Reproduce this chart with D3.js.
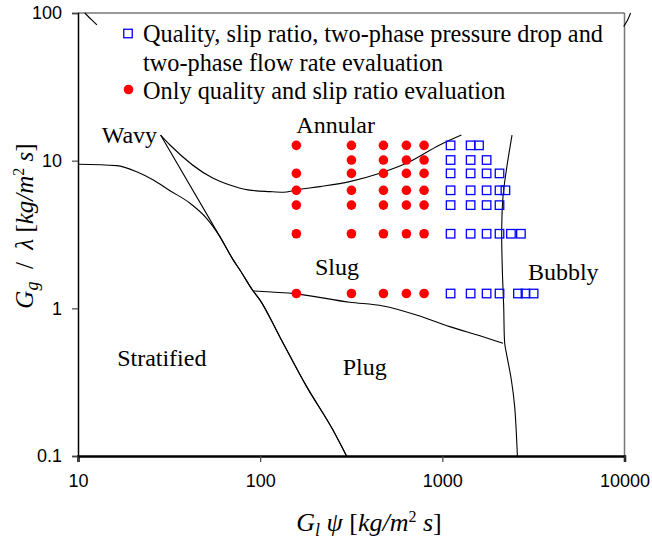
<!DOCTYPE html>
<html>
<head>
<meta charset="utf-8">
<script src="https://cdn.jsdelivr.net/npm/d3@7"></script>
<style>
  body { margin: 0; background: #fff; }
  svg { display: block; }
</style>
</head>
<body>
<svg width="652" height="544"></svg>
<script>
// ---- data ----
const xTicks = [10, 100, 1000, 10000];
const yTicks = [0.1, 1, 10, 100];

// gas flux levels of the measured rows
const yLevels = [12.7, 10.1, 8.2, 6.3, 5.0, 3.2, 1.26];

// red dots: x values per row (only quality and slip ratio)
const redRows = [
  [158, 317, 475, 635, 794],
  [317, 475, 635, 794],
  [158, 317, 475, 635, 794],
  [158, 317, 475, 635, 794],
  [158, 317, 475, 635, 794],
  [158, 317, 475, 635, 794],
  [158, 317, 475, 635, 794]
];

// blue squares: x values per row (full evaluation)
const blueRows = [
  [1110, 1430, 1590],
  [1110, 1430, 1750],
  [1110, 1430, 1750, 2060],
  [1110, 1430, 1750, 2060, 2220],
  [1110, 1430, 1750, 2060],
  [1110, 1430, 1750, 2060, 2380, 2700],
  [1110, 1430, 1750, 2060, 2600, 2860, 3170]
];

// flow pattern boundaries
const stratifiedLine = [[10, 9.45], [16.3, 9.25], [21, 8.42], [25.9, 7.4], [32, 6.26], [41.2, 5.15],
  [50.8, 4.07], [60.1, 3.06], [71.1, 2.13], [77.4, 1.82], [91.5, 1.31], [99.6, 1.14],
  [128, 0.643], [180, 0.295], [251, 0.15], [298, 0.1]];
const wavySteepLine = [[28.4, 14.9], [60.1, 3.06], [71.1, 2.13], [77.4, 1.82], [91.5, 1.31],
  [99.6, 1.14], [128, 0.643], [180, 0.295], [251, 0.15], [298, 0.1]];
const annularLine = [[28.4, 14.9], [32, 12.77], [55.2, 7.6], [68.2, 6.85], [85.9, 6.34],
  [113, 6.17], [134, 6.11], [158, 6.34], [213, 6.67], [310, 7.21], [454, 8.22], [635, 9.6],
  [967, 12.77], [1273, 14.9]];
const slugLine = [[91.5, 1.31], [158, 1.252], [310, 1.1], [473, 1.038], [721, 0.902],
  [1098, 0.752], [1672, 0.643], [2153, 0.58]];
const bubblyLine = [[2413, 14.9], [2247, 8.65], [2153, 5.71], [2118, 3.4], [2135, 1.82],
  [2172, 1.027], [2200, 0.58], [2247, 0.497], [2393, 0.327], [2495, 0.216], [2582, 0.1]];
const cornerLeft = [[10.9, 100], [11.9, 89.7], [12.7, 83]];
const cornerRight = [[10800, 100], [10400, 89.7], [9900, 81]];

const regionLabels = [
  { text: 'Wavy', x: 13.5, y: 13.2 },
  { text: 'Annular', x: 158, y: 15.4 },
  { text: 'Slug', x: 200, y: 1.68 },
  { text: 'Bubbly', x: 2950, y: 1.556 },
  { text: 'Stratified', x: 16.4, y: 0.407 },
  { text: 'Plug', x: 284, y: 0.354 }
];

// ---- layout ----
const svg = d3.select('svg');
const plotLeft = 78, plotRight = 624.5, plotTop = 13, plotBottom = 456;

const x = d3.scaleLog().domain([10, 10000]).range([plotLeft, plotRight]);
const y = d3.scaleLog().domain([0.1, 100]).range([plotBottom, plotTop]);

const serif = '"Liberation Serif", "Times New Roman", serif';
const sans = '"Liberation Sans", Arial, sans-serif';

// frame: top/right grey
svg.append('line')
  .attr('x1', plotLeft).attr('x2', plotRight).attr('y1', plotTop).attr('y2', plotTop)
  .attr('stroke', '#777').attr('stroke-width', 1.5);
svg.append('line')
  .attr('x1', plotRight).attr('x2', plotRight).attr('y1', plotTop).attr('y2', plotBottom)
  .attr('stroke', '#777').attr('stroke-width', 1.5);

// axes
const xAxis = svg.append('g')
  .attr('transform', `translate(0,${plotBottom})`)
  .call(d3.axisBottom(x).tickValues(xTicks).tickFormat(d3.format('d')).tickSize(6).tickPadding(12));
const yAxis = svg.append('g')
  .attr('transform', `translate(${plotLeft},0)`)
  .call(d3.axisLeft(y).tickValues(yTicks).tickFormat(d => d === 0.1 ? '0.1' : d3.format('d')(d)).tickSize(6).tickPadding(10));

xAxis.select('.domain').attr('stroke', '#000').attr('stroke-width', 2.5);
yAxis.select('.domain').attr('stroke', '#000').attr('stroke-width', 1.5);
svg.selectAll('.tick line').attr('stroke', '#444').attr('stroke-width', 1.2);
svg.selectAll('.tick text')
  .attr('font-family', sans).attr('font-size', 18).attr('fill', '#000');

// boundary lines
const smoothLine = d3.line()
  .x(d => x(d[0]))
  .y(d => y(d[1]))
  .curve(d3.curveMonotoneX);
const looseLine = d3.line()
  .x(d => x(d[0]))
  .y(d => y(d[1]))
  .curve(d3.curveCatmullRom.alpha(0.5));

const curvesX = [stratifiedLine, wavySteepLine, annularLine, slugLine];
const curvesFree = [bubblyLine, cornerLeft, cornerRight];
const lines = svg.append('g')
  .attr('fill', 'none')
  .attr('stroke', '#000')
  .attr('stroke-width', 1.1);
lines.selectAll('path.mx')
  .data(curvesX)
  .join('path')
  .attr('class', 'mx')
  .attr('d', smoothLine);
lines.selectAll('path.free')
  .data(curvesFree)
  .join('path')
  .attr('class', 'free')
  .attr('d', looseLine);

// region labels
svg.append('g')
  .selectAll('text')
  .data(regionLabels)
  .join('text')
  .attr('x', d => x(d.x))
  .attr('y', d => y(d.y))
  .attr('font-family', serif)
  .attr('font-size', 24)
  .text(d => d.text);

// red dots
const redPts = redRows.flatMap((row, i) => row.map(v => [v, yLevels[i]]));
svg.append('g')
  .selectAll('circle')
  .data(redPts)
  .join('circle')
  .attr('cx', d => x(d[0]))
  .attr('cy', d => y(d[1]))
  .attr('r', 4.8)
  .attr('fill', '#ff0000');

// blue squares
const sq = 8.5;
const bluePts = blueRows.flatMap((row, i) => row.map(v => [v, yLevels[i]]));
svg.append('g')
  .selectAll('rect')
  .data(bluePts)
  .join('rect')
  .attr('x', d => x(d[0]) - sq / 2)
  .attr('y', d => y(d[1]) - sq / 2)
  .attr('width', sq)
  .attr('height', sq)
  .attr('fill', 'none')
  .attr('stroke', '#0000ff')
  .attr('stroke-width', 1.3);

// legend
const lg = svg.append('g');
lg.append('rect')
  .attr('x', 128 - sq / 2).attr('y', 33.5 - sq / 2)
  .attr('width', sq).attr('height', sq)
  .attr('fill', 'none').attr('stroke', '#0000ff').attr('stroke-width', 1.3);
lg.append('circle')
  .attr('cx', 128.5).attr('cy', 89.5).attr('r', 4.8).attr('fill', '#ff0000');
const legendLines = [
  ['Quality, slip ratio, two-phase pressure drop and', 42],
  ['two-phase flow rate evaluation', 71],
  ['Only quality and slip ratio evaluation', 99]
];
lg.selectAll('text')
  .data(legendLines)
  .join('text')
  .attr('x', 143)
  .attr('y', d => d[1])
  .attr('font-family', serif)
  .attr('font-size', 24.3)
  .text(d => d[0]);

// x axis title
const xt = svg.append('text')
  .attr('x', 369).attr('y', 531)
  .attr('text-anchor', 'middle')
  .attr('font-family', serif).attr('font-size', 26);
xt.append('tspan').attr('font-style', 'italic').text('G');
xt.append('tspan').attr('font-style', 'italic').attr('font-size', 18).attr('dy', 5).text('l');
xt.append('tspan').attr('font-style', 'italic').attr('dy', -5).text(' ψ ');
xt.append('tspan').text('[');
xt.append('tspan').attr('font-style', 'italic').text('kg/m');
xt.append('tspan').attr('font-size', 16).attr('dy', -9).text('2');
xt.append('tspan').attr('font-style', 'italic').attr('dy', 9).text(' s');
xt.append('tspan').text(']');

// y axis title
const yt = svg.append('text')
  .attr('transform', 'translate(33,226) rotate(-90)')
  .attr('text-anchor', 'middle')
  .attr('font-family', serif).attr('font-size', 25);
yt.append('tspan').attr('font-style', 'italic').text('G');
yt.append('tspan').attr('font-style', 'italic').attr('font-size', 18).attr('dy', 5).text('g');
yt.append('tspan').attr('dy', -5).text('\u00a0 /\u00a0 ');
yt.append('tspan').attr('font-style', 'italic').text('λ ');
yt.append('tspan').text('[');
yt.append('tspan').attr('font-style', 'italic').text('kg/m');
yt.append('tspan').attr('font-size', 16).attr('dy', -9).text('2');
yt.append('tspan').attr('font-style', 'italic').attr('dy', 9).text(' s');
yt.append('tspan').text(']');
</script>
</body>
</html>
